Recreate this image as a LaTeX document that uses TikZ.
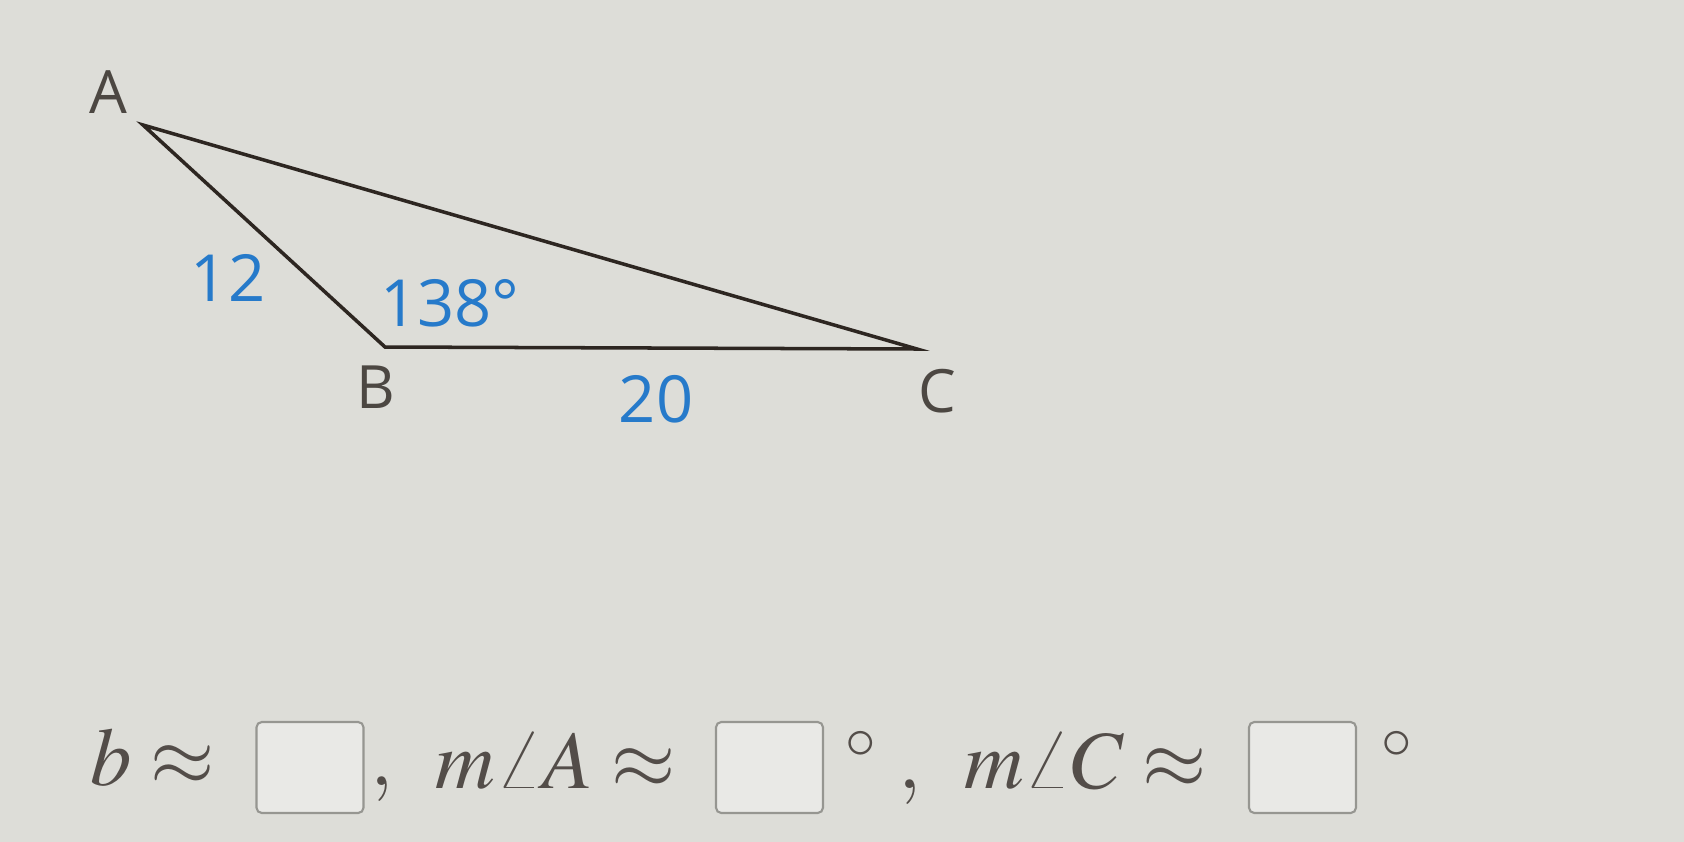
\documentclass[tikz,border=0pt]{standalone}
\usepackage{mathptmx}
\usepackage[no-math]{fontspec}
\newfontfamily\labelfont{Open Sans}
\definecolor{paper}{RGB}{221,221,216}
\definecolor{ink}{RGB}{45,38,33}
\definecolor{given}{RGB}{38,122,202}
\definecolor{boxline}{RGB}{150,150,145}
\begin{document}
\begin{tikzpicture}[x=0.02cm,y=-0.02cm,
	vertex/.style={text=ink!85,font=\labelfont\fontsize{34}{40}\selectfont,inner sep=0pt},
	value/.style={text=given,font=\labelfont\fontsize{37}{44}\selectfont,inner sep=0pt},
	answer/.style={draw=boxline,line width=1.2pt,rounded corners=3pt,fill=white!35!paper,minimum width=2.14cm,minimum height=1.82cm,inner sep=0pt},
	formula/.style={text=ink!82,font=\fontsize{47}{56}\selectfont,inner sep=0pt}]
	\fill[paper] (0,0) rectangle (1684,842);
	\useasboundingbox (0,0) rectangle (1684,842);
	% triangle
	\coordinate (A) at (143,125);
	\coordinate (B) at (385,347);
	\coordinate (C) at (917,349);
	\draw[ink,line width=2pt,line join=miter] (A) -- (B) -- (C) -- cycle;
	\node[vertex] (labA) at (108,92) {A};
	\node[vertex] (labB) at (376,387) {B};
	\node[vertex] (labC) at (937,391) {C};
	\node[value] (sideAB) at (228,278) {12};
	\node[value] (sideBC) at (656,399) {20};
	\node[value] (angB) at (450,303) {138°};
	% answer line
	\node[formula,anchor=base east] (bval) at (215,785) {$b\approx$};
	\node[answer] (boxb) at (310,767.5) {};
	\node[formula,anchor=base west] (comma1) at (370,785) {$,$};
	\node[formula,anchor=base east] (angleA) at (676,788) {$m\angle A\approx$};
	\node[answer] (boxA) at (769.5,767.5) {};
	\node[formula,anchor=base west] (degA) at (845,788) {$^\circ$};
	\node[formula,anchor=base west] (comma2) at (898,788) {$,$};
	\node[formula,anchor=base east] (angleC) at (1207,788) {$m\angle C\approx$};
	\node[answer] (boxC) at (1302.5,767.5) {};
	\node[formula,anchor=base west] (degC) at (1381,788) {$^\circ$};
\end{tikzpicture}
\end{document}
